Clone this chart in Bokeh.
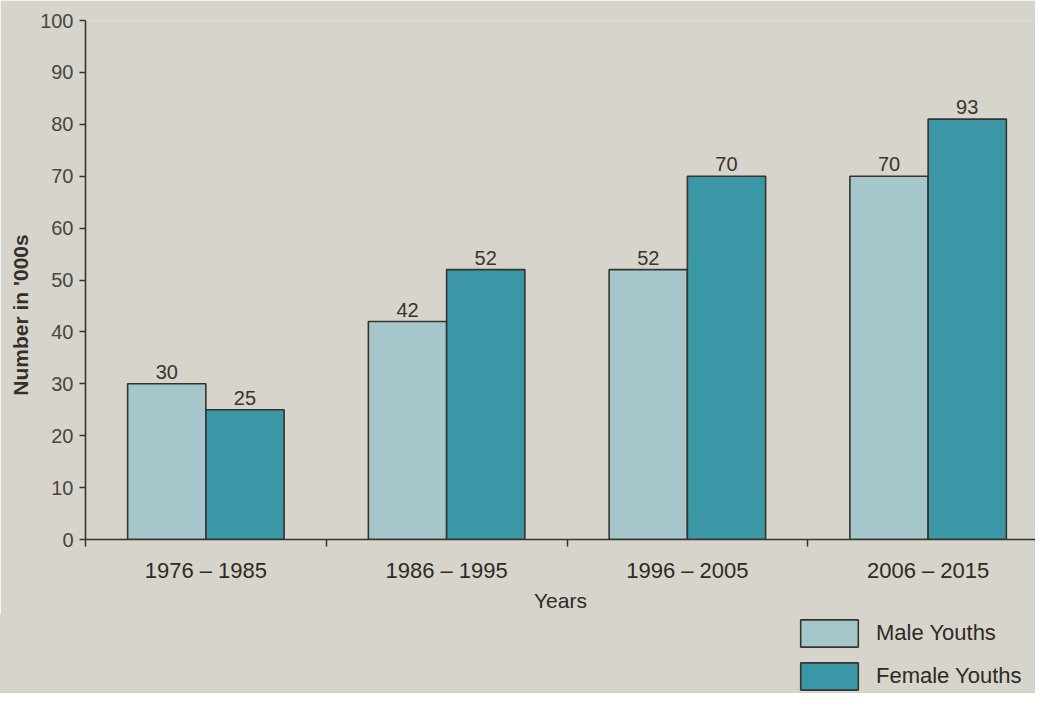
from bokeh.plotting import figure
from bokeh.models import Range1d, FixedTicker, Legend, LegendItem, ColumnDataSource
from bokeh.layouts import column
from bokeh.embed import file_html
from bokeh.resources import INLINE
from bokeh.core.properties import value

# ---- data ----
periods = ["1976 – 1985", "1986 – 1995", "1996 – 2005", "2006 – 2015"]
male_heights = [30, 42, 52, 70]
female_heights = [25, 52, 70, 81]      # bar heights as drawn in the picture
male_labels = ["30", "42", "52", "70"]
female_labels = ["25", "52", "70", "93"]  # printed value labels
y_ticks = [0, 10, 20, 30, 40, 50, 60, 70, 80, 90, 100]
series_names = ["Male Youths", "Female Youths"]

FONT = "Liberation Sans"
BG = "#d7d4cc"
MALE_C = "#a5c7cc"
FEMALE_C = "#3b96a6"
EDGE = "#37342d"
TXT = "#2e2a24"

W = 1035
H1 = 614
H2 = 693 - H1

idx = list(range(1, len(periods) + 1))
bw = 0.325

p = figure(width=W, height=H1, output_backend="svg", toolbar_location=None,
           x_range=Range1d(0.5, 4.446), y_range=Range1d(0, 100),
           min_border_left=85, min_border_top=20, min_border_bottom=H1 - 540,
           min_border_right=0)
p.background_fill_color = BG
p.border_fill_color = BG
p.outline_line_color = None
p.grid.visible = False

male_src = ColumnDataSource(dict(x=[i - bw / 2 for i in idx], top=male_heights, lab=male_labels))
fem_src = ColumnDataSource(dict(x=[i + bw / 2 for i in idx], top=female_heights, lab=female_labels))

p.vbar(x="x", top="top", width=bw, source=male_src, fill_color=MALE_C,
       line_color=EDGE, line_width=1.6)
p.vbar(x="x", top="top", width=bw, source=fem_src, fill_color=FEMALE_C,
       line_color=EDGE, line_width=1.6)

for src in (male_src, fem_src):
    p.text(x="x", y="top", text="lab", source=src, text_align="center",
           text_baseline="bottom", y_offset=-5, text_font=value(FONT),
           text_font_size="20px", text_color="#3a352d")

# x axis
xa = p.xaxis[0]
xa.ticker = FixedTicker(ticks=idx, minor_ticks=[0.5, 1.5, 2.5, 3.5, 4.5])
xa.major_label_overrides = {i: s for i, s in zip(idx, periods)}
xa.major_tick_line_color = None
xa.major_tick_out = 0
xa.major_tick_in = 0
xa.minor_tick_line_color = EDGE
xa.minor_tick_line_width = 1.5
xa.minor_tick_in = 0
xa.minor_tick_out = 7
xa.axis_line_color = EDGE
xa.axis_line_width = 1.6
xa.major_label_standoff = 11
xa.major_label_text_font = FONT
xa.major_label_text_font_size = "22px"
xa.major_label_text_color = TXT
xa.axis_label = "Years"
xa.axis_label_text_font = FONT
xa.axis_label_text_font_size = "21px"
xa.axis_label_text_font_style = "normal"
xa.axis_label_text_color = TXT
xa.axis_label_standoff = 3

# y axis
ya = p.yaxis[0]
ya.ticker = FixedTicker(ticks=y_ticks)
ya.minor_tick_line_color = None
ya.major_tick_line_color = EDGE
ya.major_tick_line_width = 1.5
ya.major_tick_in = 0
ya.major_tick_out = 6
ya.axis_line_color = EDGE
ya.axis_line_width = 1.6
ya.major_label_standoff = 6
ya.major_label_text_font = FONT
ya.major_label_text_font_size = "20px"
ya.major_label_text_color = "#4a463e"
ya.axis_label = "Number in '000s" + "\u00a0" * 12
ya.axis_label_text_font = FONT
ya.axis_label_text_font_size = "21px"
ya.axis_label_text_font_style = "bold"
ya.axis_label_text_color = "#35312a"
ya.axis_label_standoff = 5

# legend strip below
p2 = figure(width=W, height=H2, output_backend="svg", toolbar_location=None,
            x_range=Range1d(0, 1), y_range=Range1d(0, 1),
            x_axis_type=None, y_axis_type=None, min_border=0,
            styles={"background-color": BG})
p2.background_fill_alpha = 0
p2.border_fill_alpha = 0
p2.outline_line_color = None
p2.grid.visible = False
lm = p2.vbar(x=[-5], top=[0], width=0.1, fill_color=MALE_C, line_color=EDGE, line_width=1.6)
lf = p2.vbar(x=[-5], top=[0], width=0.1, fill_color=FEMALE_C, line_color=EDGE, line_width=1.6)

legend = Legend(items=[LegendItem(label=series_names[0], renderers=[lm]),
                       LegendItem(label=series_names[1], renderers=[lf])],
                location=(708, 0), orientation="vertical",
                glyph_width=72, glyph_height=34, spacing=9, padding=0, margin=0,
                label_standoff=11, label_text_font=FONT, label_text_font_size="22px",
                label_text_color=TXT, background_fill_alpha=0, border_line_alpha=0,
                label_height=34)
p2.add_layout(legend)

open("out.html", "w").write(file_html(column(p, p2, spacing=0), INLINE))
